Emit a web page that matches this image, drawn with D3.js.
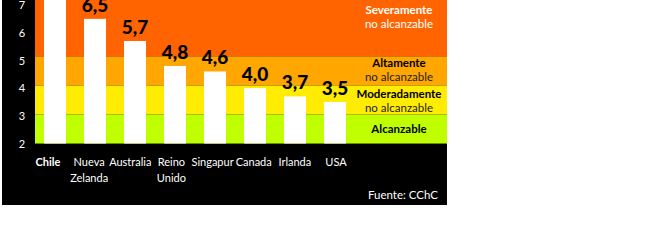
<!DOCTYPE html>
<html><head><meta charset="utf-8">
<script src="https://cdn.jsdelivr.net/npm/d3@7"></script>
<style>html,body{margin:0;padding:0;background:#fff;}svg{display:block;}</style>
</head><body>
<svg id="chart" width="650" height="250"></svg>
<script>
const categories = [["Chile"], ["Nueva","Zelanda"], ["Australia"], ["Reino","Unido"], ["Singapur"], ["Canada"], ["Irlanda"], ["USA"]];
const values = [7.8, 6.5, 5.7, 4.8, 4.6, 4.0, 3.7, 3.5];
const valueLabels = ["7,8", "6,5", "5,7", "4,8", "4,6", "4,0", "3,7", "3,5"];
const yTicks = [2, 3, 4, 5, 6, 7];
const bandLimits = [2, 3.05, 4.1, 5.15, 8];
const bandColors = ["#BFFF00", "#FFEC00", "#FFA600", "#FF6400"];
const bandTitles = ["Alcanzable", "Moderadamente", "Altamente", "Severamente"];
const bandSubtitles = ["", "no alcanzable", "no alcanzable", "no alcanzable"];
const source = "Fuente: CChC";

const svg = d3.select("#chart");
const font = "Lato, 'Liberation Sans', sans-serif";
const x0 = 35, x1 = 447;

svg.append("rect").attr("x", 2).attr("y", 0).attr("width", 445).attr("height", 205).attr("fill", "#000");

const y = d3.scaleLinear().domain([2, 7]).range([143.5, 5]);
const x = d3.scaleBand().domain(d3.range(values.length)).range([35, 355]).paddingInner(0.45).paddingOuter(0.225);
const xl = d3.scalePoint().domain(d3.range(values.length)).range([48, 336]);

const g = svg.append("g");
bandColors.forEach((c, i) => {
  const top = Math.max(y(bandLimits[i+1]), 0);
  g.append("rect").attr("x", x0).attr("width", x1 - x0)
    .attr("y", top).attr("height", y(bandLimits[i]) - top).attr("fill", c);
});
g.append("line").attr("x1", x0).attr("x2", x1).attr("y1", y(2)).attr("y2", y(2))
  .attr("stroke", "#6a8a00").attr("stroke-width", 1);

g.selectAll("rect.bar").data(values).join("rect").attr("class", "bar")
  .attr("x", (d, i) => x(i)).attr("width", x.bandwidth())
  .attr("y", d => y(d)).attr("height", d => y(2) - y(d)).attr("fill", "#fff");

g.selectAll("text.val").data(values.map((v, i) => ({v, i})).filter(d => y(d.v) - 7 > 8)).join("text")
  .attr("class", "val")
  .attr("x", d => x(d.i) + x.bandwidth() / 2).attr("y", d => y(d.v) - 7)
  .attr("text-anchor", "middle").attr("font-family", font).attr("font-weight", "900")
  .attr("font-size", 19).attr("fill", "#000").text(d => valueLabels[d.i]);

const yAxis = d3.axisLeft(y).tickValues(yTicks).tickSize(0).tickFormat(d3.format("d"));
const ya = svg.append("g").attr("transform", "translate(28,0)").call(yAxis);
ya.select(".domain").remove();
ya.selectAll("text").attr("fill", "#fff").attr("font-family", font).attr("font-size", 11)
  .attr("text-anchor", "middle").attr("x", -6).attr("dy", "0.35em");

categories.forEach((lines, i) => {
  const t = svg.append("text").attr("x", xl(i)).attr("y", 166).attr("text-anchor", "middle")
    .attr("font-family", font).attr("font-size", 11).attr("fill", "#fff")
    .attr("font-weight", i === 0 ? "bold" : "normal");
  lines.forEach((l, j) => t.append("tspan").attr("x", xl(i)).attr("dy", j === 0 ? 0 : 16).text(l));
});

const bandLabelX = 399;
const titleY = [129, 94, 63, 10];
bandTitles.forEach((t, i) => {
  const dark = i < 3;
  const tx = svg.append("text").attr("x", bandLabelX).attr("text-anchor", "middle")
    .attr("font-family", font).attr("font-size", 11.5).attr("fill", dark ? "#000" : "#fff");
  tx.append("tspan").attr("x", bandLabelX).attr("y", titleY[i]).attr("dy", "0.35em").attr("font-weight", "bold").text(t);
  if (bandSubtitles[i]) tx.append("tspan").attr("x", bandLabelX).attr("y", titleY[i] + 13.5).attr("dy", "0.35em")
    .attr("font-size", 11.5).attr("fill", dark ? "#222" : "#fff").text(bandSubtitles[i]);
});

svg.append("text").attr("x", 438).attr("y", 199).attr("text-anchor", "end")
  .attr("font-family", font).attr("font-size", 11.5).attr("fill", "#fff").text(source);
</script>
</body></html>
